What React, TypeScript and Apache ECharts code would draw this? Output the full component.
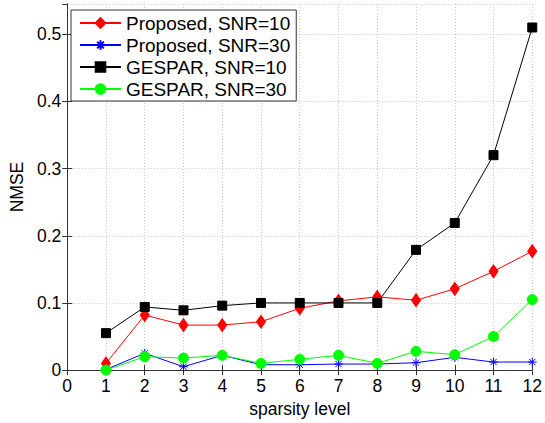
import React, { useEffect, useRef } from "react";
import * as echarts from "echarts";

const sparsity = [1, 2, 3, 4, 5, 6, 7, 8, 9, 10, 11, 12];
const proposed10 = [0.010, 0.082, 0.067, 0.067, 0.072, 0.092, 0.103, 0.109, 0.104, 0.121, 0.147, 0.177];
const proposed30 = [0.001, 0.025, 0.005, 0.022, 0.008, 0.008, 0.009, 0.009, 0.011, 0.019, 0.012, 0.012];
const gespar10 = [0.055, 0.094, 0.089, 0.096, 0.100, 0.100, 0.100, 0.100, 0.179, 0.219, 0.320, 0.510];
const gespar30 = [0.000, 0.020, 0.018, 0.022, 0.010, 0.016, 0.022, 0.010, 0.028, 0.023, 0.050, 0.105];
const seriesNames = ["Proposed, SNR=10", "Proposed, SNR=30", "GESPAR, SNR=10", "GESPAR, SNR=30"];

const FONT = "'Liberation Sans', Arial, Helvetica, sans-serif";
const asterisk = "path://M5 0 L5 10 M0 5 L10 5 M1.5 1.5 L8.5 8.5 M8.5 1.5 L1.5 8.5";

const pairs = (ys: number[]) => sparsity.map((x, i) => [x, ys[i]]);

export default function App() {
  const ref = useRef<HTMLDivElement>(null);
  useEffect(() => {
    if (!ref.current) return;
    const chart = echarts.init(ref.current, undefined, { renderer: "svg" });
    const axisLine = { show: true, lineStyle: { color: "#333", width: 1 } };
    const tick = { show: true, inside: true, length: 5, lineStyle: { color: "#333" } };
    const grid = { show: true, lineStyle: { color: "#c8c8c8", type: [1, 2] as any, width: 1 } };
    const label = { color: "#000", fontSize: 17.5, fontFamily: FONT };
    const mk = (name: string, data: number[], color: string, symbol: string, size: any) => ({
      name,
      type: "line",
      data: pairs(data),
      symbol,
      symbolSize: size,
      showAllSymbol: true,
      lineStyle: { color, width: 1 },
      itemStyle: { color, borderColor: color, borderWidth: 1 },
      emphasis: { disabled: true },
      z: 3,
    });
    chart.setOption({
      animation: false,
      backgroundColor: "#fff",
      grid: { left: 63, right: 9, top: 4, bottom: 51, containLabel: false },
      legend: {
        orient: "vertical",
        left: 71,
        top: 10,
        padding: [2, 6, 1, 8],
        itemGap: 0,
        itemWidth: 41,
        itemHeight: 12,
        backgroundColor: "#fff",
        borderColor: "#333",
        borderWidth: 1,
        borderRadius: 0,
        textStyle: { color: "#000", fontSize: 19, fontFamily: FONT, lineHeight: 22, padding: [0, 0, 0, 0] },
        data: seriesNames,
        selectedMode: false,
      },
      xAxis: [
        {
          type: "value",
          min: 0,
          max: 12,
          interval: 1,
          name: "sparsity level",
          nameLocation: "middle",
          nameGap: 28,
          nameTextStyle: { color: "#000", fontSize: 17.5, fontFamily: FONT },
          axisLine,
          axisTick: tick,
          splitLine: grid,
          axisLabel: { ...label, margin: 7 },
        },
        {
          type: "value",
          position: "top",
          min: 0,
          max: 12,
          interval: 1,
          axisLine,
          axisTick: tick,
          splitLine: { show: false },
          axisLabel: { show: false },
        },
      ],
      yAxis: [
        {
          type: "value",
          min: 0,
          max: 0.545,
          interval: 0.1,
          name: "NMSE",
          nameLocation: "middle",
          nameGap: 38,
          nameTextStyle: { color: "#000", fontSize: 17.5, fontFamily: FONT },
          axisLine,
          axisTick: tick,
          splitLine: grid,
          axisLabel: { ...label, margin: 6, showMaxLabel: false },
        },
        {
          type: "value",
          position: "right",
          min: 0,
          max: 0.545,
          interval: 0.1,
          axisLine,
          axisTick: tick,
          splitLine: { show: false },
          axisLabel: { show: false },
        },
      ],
      series: [
        mk(seriesNames[0], proposed10, "#ff0000", "diamond", [9, 13]),
        mk(seriesNames[1], proposed30, "#0000ff", asterisk, 9),
        mk(seriesNames[2], gespar10, "#000000", "rect", 9),
        mk(seriesNames[3], gespar30, "#00ff00", "circle", 10),
      ],
    });
    return () => chart.dispose();
  }, []);
  return <div ref={ref} style={{ width: 545, height: 423, position: "absolute", left: 0, top: 0 }} />;
}
